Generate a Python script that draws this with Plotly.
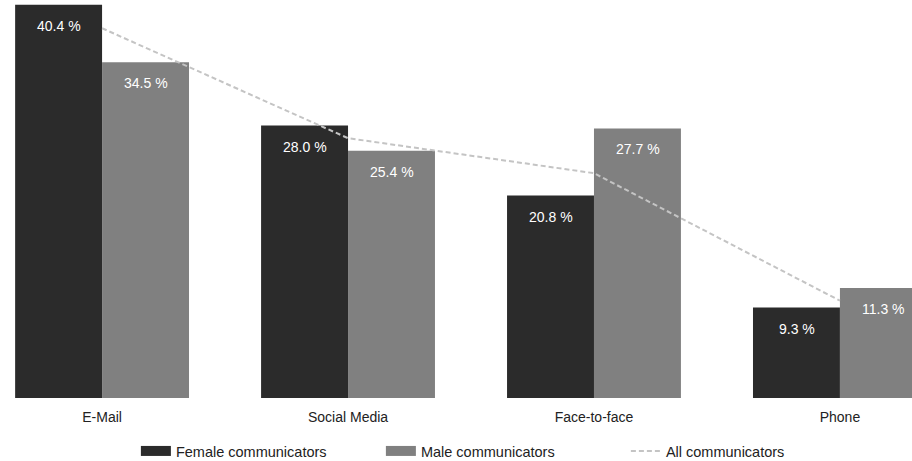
import plotly.graph_objects as go

categories = ["E-Mail", "Social Media", "Face-to-face", "Phone"]
female = [40.4, 28.0, 20.8, 9.3]
male = [34.5, 25.4, 27.7, 11.3]
all_comm = [38.0, 26.7, 23.1, 10.0]

FEMALE_C = "#2b2b2b"
MALE_C = "#808080"
LINE_C = "#c4c4c4"
FONT = "Liberation Sans, Arial, sans-serif"

fig = go.Figure()
fig.add_trace(go.Bar(
    x=categories, y=female, name="Female communicators", marker_color=FEMALE_C,
    marker_line_width=0, showlegend=False, hoverinfo="x+y",
))
fig.add_trace(go.Bar(
    x=categories, y=male, name="Male communicators", marker_color=MALE_C,
    marker_line_width=0, showlegend=False, hoverinfo="x+y",
))
fig.add_trace(go.Scatter(
    x=categories, y=all_comm, mode="lines", name="All communicators",
    line=dict(color=LINE_C, width=2, dash="5px,3px"), showlegend=False,
))
# legend-only entries
fig.add_trace(go.Scatter(x=[None], y=[None], mode="lines", name="Female communicators",
                         line=dict(color=FEMALE_C, width=14)))
fig.add_trace(go.Scatter(x=[None], y=[None], mode="lines", name="Male communicators",
                         line=dict(color=MALE_C, width=14)))
fig.add_trace(go.Scatter(x=[None], y=[None], mode="lines", name="All communicators",
                         line=dict(color=LINE_C, width=2, dash="5px,3px")))

# value labels inside bars, near the top
for cat, f, m in zip(categories, female, male):
    for val, shift in ((f, -43), (m, 44)):
        fig.add_annotation(x=cat, y=val, text=f"{val:.1f} %", showarrow=False,
                           xshift=shift, yshift=-21, yanchor="middle",
                           font=dict(color="white", size=14, family=FONT))

fig.update_layout(
    width=912, height=461,
    margin=dict(l=0, r=0, t=0, b=63, autoexpand=False),
    plot_bgcolor="white", paper_bgcolor="white",
    barmode="group", bargap=0.293, bargroupgap=0,
    font=dict(family=FONT, size=14, color="#222222"),
    xaxis=dict(type="category", range=[-0.415, 3.293], showgrid=False, showline=False,
               zeroline=False, ticks="", ticklabelstandoff=9,
               tickfont=dict(size=14, color="#222222")),
    yaxis=dict(range=[0, 40.9], visible=False),
    legend=dict(orientation="h", x=0.149, xanchor="left", y=-0.093, yanchor="top",
                entrywidth=200, entrywidthmode="pixels", font=dict(size=14.5, color="#222222"),
                bgcolor="rgba(0,0,0,0)"),
)

fig.write_html("out.html")
